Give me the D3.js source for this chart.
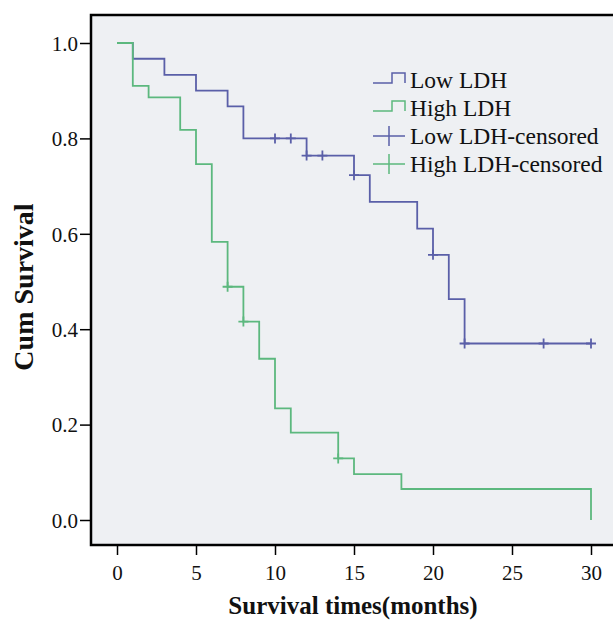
<!DOCTYPE html>
<html>
<head>
    <script type="text/javascript" src="https://cdn.jsdelivr.net/npm/d3@7/dist/d3.min.js" charset="utf-8"></script>
    <style>
        body { margin: 0; background: #fff; }
        text { font-family: "Liberation Serif", "Times New Roman", serif; fill: #111; }
    </style>
</head>
<body>
    <div id="viz"></div>
    <script type="text/javascript">
    //Step data: [time, survival] pairs where survival drops
    var lowSteps = [[0, 1.0], [1, 0.967], [3, 0.933], [5, 0.9], [7, 0.867], [8, 0.8], [12, 0.764],
                    [15, 0.723], [16, 0.667], [19, 0.611], [20, 0.556], [21, 0.463], [22, 0.370]];
    var lowEnd = 30;
    var lowCensored = [[10, 0.8], [11, 0.8], [12, 0.764], [13, 0.764], [15, 0.723], [20, 0.556],
                       [22, 0.370], [27, 0.370], [30, 0.370]];

    var highSteps = [[0, 1.0], [1, 0.91], [2, 0.886], [4, 0.818], [5, 0.746], [6, 0.583], [7, 0.489],
                     [8, 0.416], [9, 0.338], [10, 0.234], [11, 0.183], [14, 0.129], [15, 0.096],
                     [18, 0.065], [30, 0.0]];
    var highEnd = 30;
    var highCensored = [[7, 0.489], [8, 0.416], [14, 0.129]];

    var xTicks = [0, 5, 10, 15, 20, 25, 30];
    var yTicks = [0.0, 0.2, 0.4, 0.6, 0.8, 1.0];
    var legendLabels = ["Low LDH", "High LDH", "Low LDH-censored", "High LDH-censored"];

    var lowColor = "#5a5fa8";
    var highColor = "#5cb87e";

    var width = 613, height = 622;
    var svg = d3.select("#viz").append("svg")
        .attr("width", width)
        .attr("height", height);

    var x = d3.scaleLinear().domain([0, 30]).range([117, 591]);
    var y = d3.scaleLinear().domain([0, 1]).range([520, 43]);

    //Plot background and frame
    svg.append("rect")
        .attr("x", 91).attr("y", 15)
        .attr("width", 530).attr("height", 530)
        .attr("fill", "#eef0f3")
        .attr("stroke", "#000")
        .attr("stroke-width", 2.5);

    //Axes
    var xAxis = d3.axisBottom(x).tickValues(xTicks).tickSize(9).tickSizeOuter(0).tickFormat(d3.format("d"));
    var gx = svg.append("g").attr("transform", "translate(0,546)").call(xAxis);
    gx.select(".domain").remove();
    gx.selectAll("line").attr("stroke", "#000").attr("stroke-width", 1.5);
    gx.selectAll("text").attr("font-size", 21).attr("dy", "1.05em")
        .style("font-family", "'Liberation Serif', serif");

    var yAxis = d3.axisLeft(y).tickValues(yTicks).tickSize(10).tickSizeOuter(0).tickFormat(d3.format(".1f"));
    var gy = svg.append("g").attr("transform", "translate(90,0)").call(yAxis);
    gy.select(".domain").remove();
    gy.selectAll("line").attr("stroke", "#000").attr("stroke-width", 1.5);
    gy.selectAll("text").attr("font-size", 21).attr("x", -12).attr("dy", "0.35em")
        .style("font-family", "'Liberation Serif', serif");

    //Axis titles
    svg.append("text")
        .attr("x", 353).attr("y", 614)
        .attr("text-anchor", "middle")
        .attr("font-size", 25)
        .attr("font-weight", "bold")
        .text("Survival times(months)");

    svg.append("text")
        .attr("transform", "translate(33,287) rotate(-90)")
        .attr("text-anchor", "middle")
        .attr("font-size", 28)
        .attr("font-weight", "bold")
        .text("Cum Survival");

    //Step curves
    function stepPoints(steps, end) {
        var pts = steps.slice();
        var last = steps[steps.length - 1];
        if (last[0] < end) pts.push([end, last[1]]);
        return pts;
    }
    var line = d3.line()
        .x(function(d) { return x(d[0]) })
        .y(function(d) { return y(d[1]) })
        .curve(d3.curveStepAfter);

    svg.append("path")
        .datum(stepPoints(lowSteps, lowEnd))
        .attr("d", line)
        .attr("fill", "none")
        .attr("stroke", lowColor)
        .attr("stroke-width", 1.8);

    svg.append("path")
        .datum(stepPoints(highSteps, highEnd))
        .attr("d", line)
        .attr("fill", "none")
        .attr("stroke", highColor)
        .attr("stroke-width", 1.8);

    //Censor marks
    function drawCensors(data, color) {
        svg.append("g").selectAll("path")
            .data(data)
            .enter()
            .append("path")
            .attr("d", function(d) {
                var cx = x(d[0]), cy = y(d[1]);
                return "M" + (cx - 5) + "," + cy + "H" + (cx + 5) + "M" + cx + "," + (cy - 5) + "V" + (cy + 5);
            })
            .attr("stroke", color)
            .attr("stroke-width", 1.8);
    }
    drawCensors(lowCensored, lowColor);
    drawCensors(highCensored, highColor);

    //Legend
    var legendColors = [lowColor, highColor, lowColor, highColor];
    var legend = svg.append("g").selectAll("g")
        .data(legendLabels)
        .enter()
        .append("g")
        .attr("transform", function(d, i) { return "translate(373," + (80 + i * 28) + ")" });

    legend.each(function(d, i) {
        var g = d3.select(this);
        if (i < 2) {
            g.append("path")
                .attr("d", "M0,3H19V-7H32V3")
                .attr("fill", "none")
                .attr("stroke", legendColors[i])
                .attr("stroke-width", 1.5);
        } else {
            g.append("path")
                .attr("d", "M0,0H32M16,-10V10")
                .attr("stroke", legendColors[i])
                .attr("stroke-width", 1.5);
        }
        g.append("text")
            .attr("x", 37)
            .attr("dy", "0.35em")
            .attr("font-size", 23.5)
            .text(d);
    });
    </script>
</body>
</html>
